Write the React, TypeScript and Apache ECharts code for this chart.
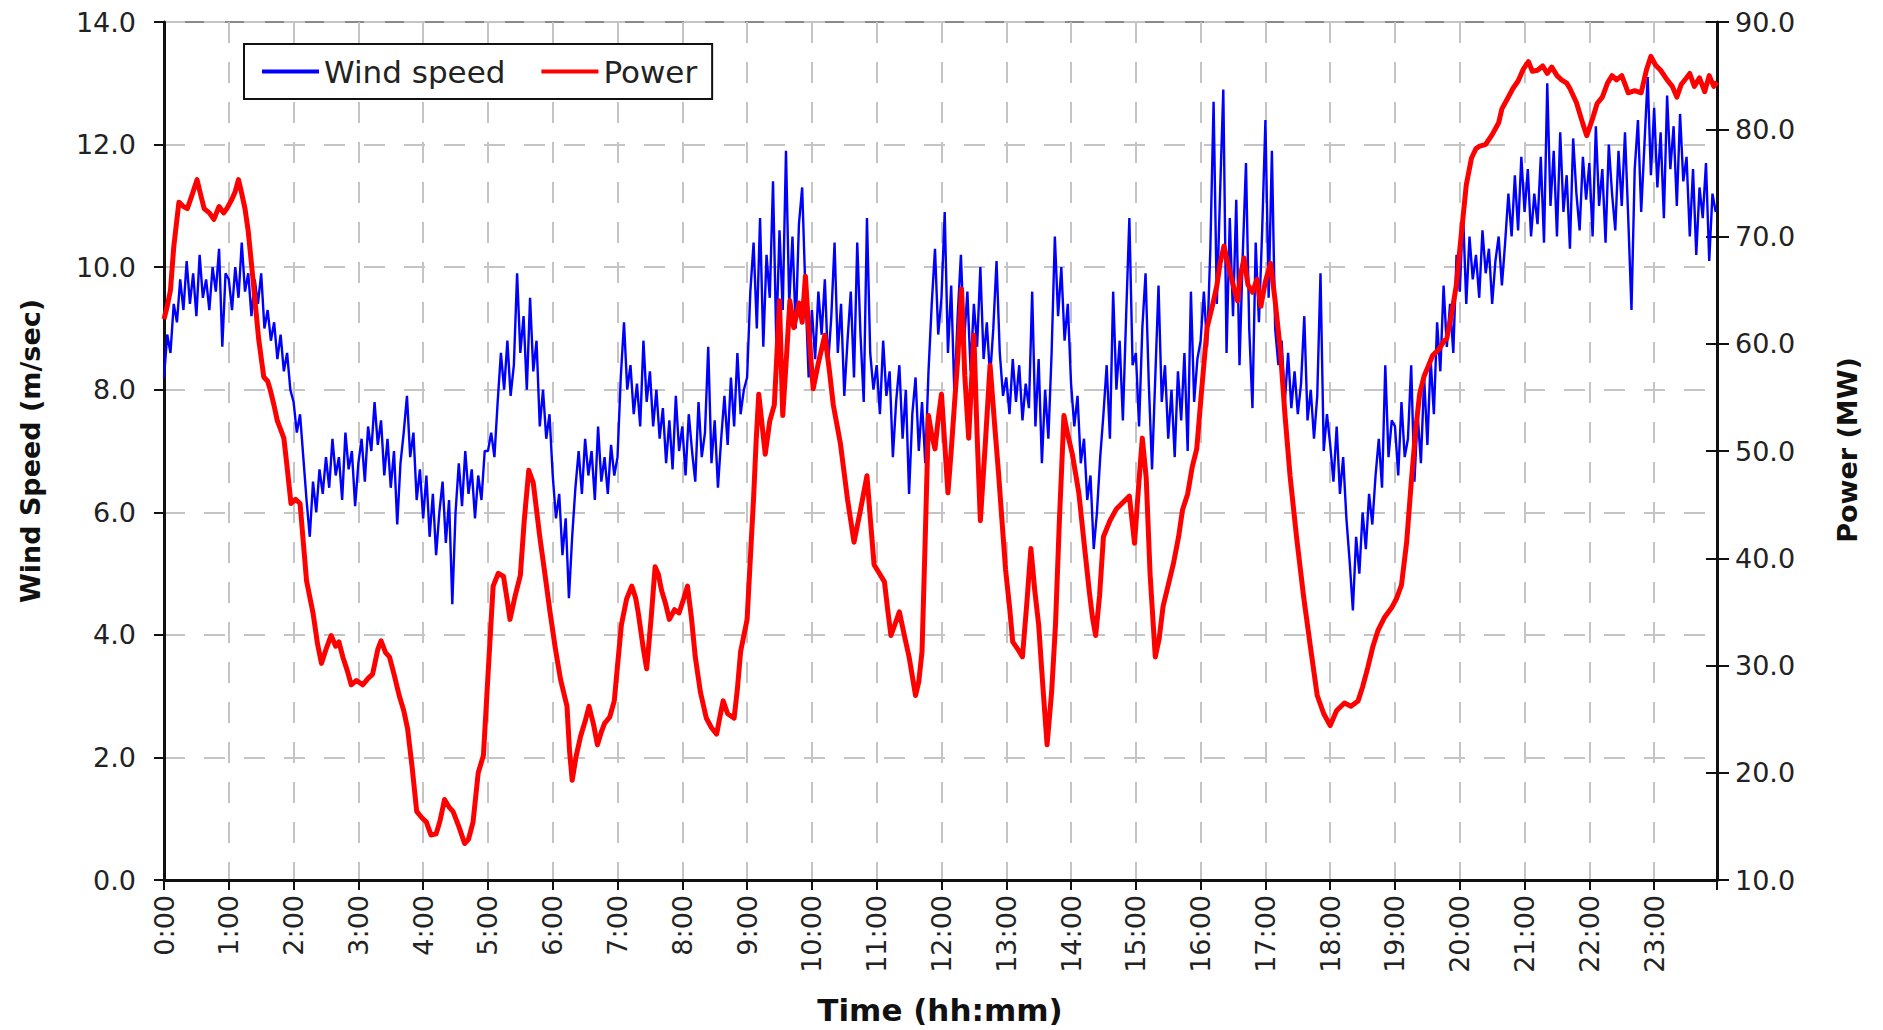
import React, { useEffect, useRef } from "react";
import * as echarts from "echarts";

// Wind speed (m/sec), one reading every 3 minutes; each row = one hour (0:00 … 23:57)
const WIND_STEP_HOURS = 0.05;
const windSpeed: number[] = [
  8.2, 8.9, 8.6, 9.4, 9.1, 9.8, 9.3, 10.1, 9.4, 9.9, 9.2, 10.2, 9.5, 9.8, 9.3, 10.0, 9.6, 10.3, 8.7, 9.9,
  9.8, 9.3, 10.0, 9.5, 10.4, 9.6, 9.9, 9.2, 9.8, 9.4, 9.9, 9.0, 9.3, 8.8, 9.1, 8.5, 8.9, 8.3, 8.6, 8.0,
  7.8, 7.3, 7.6, 6.9, 6.2, 5.6, 6.5, 6.0, 6.7, 6.3, 6.9, 6.4, 7.2, 6.6, 6.9, 6.2, 7.3, 6.7, 7.0, 6.1,
  6.8, 7.2, 6.5, 7.4, 7.0, 7.8, 7.1, 7.5, 6.6, 7.2, 6.4, 7.0, 5.8, 6.8, 7.3, 7.9, 6.9, 7.3, 6.2, 6.7,
  5.9, 6.6, 5.6, 6.3, 5.3, 6.0, 6.5, 5.5, 6.2, 4.5, 6.0, 6.8, 6.1, 7.0, 6.3, 6.7, 5.9, 6.6, 6.2, 7.0,
  7.0, 7.3, 6.9, 7.8, 8.6, 8.0, 8.8, 7.9, 8.4, 9.9, 8.6, 9.2, 8.0, 9.5, 8.3, 8.8, 7.4, 8.0, 7.2, 7.6,
  6.6, 5.9, 6.3, 5.3, 5.9, 4.6, 5.6, 6.4, 7.0, 6.3, 7.2, 6.6, 7.0, 6.2, 7.4, 6.5, 6.9, 6.3, 7.1, 6.6,
  6.9, 8.2, 9.1, 8.0, 8.4, 7.6, 8.1, 7.4, 8.8, 7.8, 8.3, 7.4, 8.0, 7.2, 7.7, 6.8, 7.5, 6.7, 7.9, 7.0,
  7.4, 6.6, 7.6, 7.0, 6.5, 7.8, 6.9, 7.3, 8.7, 6.8, 7.5, 6.4, 7.2, 7.9, 7.1, 8.2, 7.4, 8.6, 7.6, 8.0,
  8.2, 9.6, 10.4, 9.0, 10.8, 8.7, 10.2, 9.5, 11.4, 8.8, 10.6, 9.3, 11.9, 9.4, 10.5, 9.0, 10.7, 11.3, 9.6, 8.2,
  9.3, 8.5, 9.6, 8.9, 9.8, 8.4, 9.2, 10.4, 8.6, 9.4, 7.9, 8.8, 9.6, 8.2, 10.4, 8.9, 7.8, 10.8, 8.6, 8.0,
  8.4, 7.6, 8.8, 7.9, 8.3, 6.9, 7.8, 8.4, 7.2, 8.0, 6.3, 7.6, 8.2, 7.0, 7.8, 6.8, 8.3, 9.4, 10.3, 8.9,
  9.5, 10.9, 8.6, 9.7, 7.9, 9.2, 10.2, 8.8, 9.6, 8.3, 9.4, 8.7, 10.0, 8.5, 9.1, 8.2, 9.0, 10.1, 8.6, 7.9,
  8.2, 7.6, 8.5, 7.8, 8.4, 7.5, 8.1, 7.7, 9.6, 7.4, 8.5, 6.8, 8.0, 7.2, 8.6, 10.5, 9.2, 10.0, 8.8, 9.4,
  8.1, 7.4, 7.9, 6.8, 7.2, 6.2, 6.6, 5.4, 6.0, 6.9, 7.6, 8.4, 7.2, 9.6, 8.0, 8.8, 7.5, 9.2, 10.8, 8.4,
  8.6, 7.4, 9.0, 9.9, 8.1, 6.7, 8.2, 9.7, 7.8, 8.4, 7.2, 8.0, 6.9, 8.3, 7.5, 8.6, 7.0, 9.6, 7.8, 8.5,
  8.8, 9.6, 8.7, 10.3, 12.7, 9.4, 11.2, 12.9, 8.6, 10.8, 9.2, 11.1, 8.4, 10.2, 11.7, 9.0, 7.7, 10.4, 9.1, 10.6,
  12.4, 9.5, 11.9, 9.0, 8.4, 8.8, 7.8, 8.6, 7.7, 8.3, 7.6, 8.1, 9.2, 7.5, 8.0, 7.2, 7.9, 9.9, 7.0, 7.6,
  7.1, 6.5, 7.4, 6.3, 6.9, 5.9, 5.2, 4.4, 5.6, 5.0, 6.0, 5.4, 6.3, 5.8, 6.6, 7.2, 6.4, 8.4, 6.9, 7.5,
  7.4, 6.6, 7.8, 6.9, 7.2, 8.4, 6.5, 7.6, 6.8, 8.2, 7.1, 8.5, 7.6, 9.1, 8.3, 9.7, 8.7, 9.4, 8.6, 10.2,
  9.6, 10.9, 9.4, 10.5, 9.8, 10.2, 9.5, 10.6, 9.9, 10.3, 9.4, 10.1, 10.5, 9.7, 10.4, 11.2, 10.5, 11.5, 10.6, 11.8,
  10.9, 11.6, 10.5, 11.2, 10.7, 11.8, 10.4, 13.0, 11.0, 11.9, 10.5, 12.2, 10.9, 11.5, 10.3, 12.1, 11.2, 10.6, 11.8, 11.1,
  11.7, 10.5, 12.3, 11.0, 11.6, 10.4, 12.0, 11.2, 10.6, 11.9, 11.0, 12.2, 10.8, 9.3, 11.6, 12.4, 10.9, 12.0, 13.1, 11.5,
  12.6, 11.3, 12.2, 10.8, 12.8, 11.6, 12.3, 11.0, 12.5, 11.4, 11.8, 10.5, 11.6, 10.2, 11.3, 10.8, 11.7, 10.1, 11.2, 10.9,
];

// Power (MW) as [time in hours, MW]
const powerPoints: [number, number][] = [
  [0.0, 62.3], [0.05, 63.5], [0.1, 65], [0.15, 69], [0.23, 73.2], [0.3, 72.8], [0.36, 72.6], [0.44, 74],
  [0.51, 75.3], [0.57, 73.8], [0.62, 72.6], [0.7, 72.2], [0.77, 71.6], [0.85, 72.8], [0.92, 72.2], [0.97, 72.6],
  [1.05, 73.5], [1.1, 74.2], [1.15, 75.3], [1.2, 74.0], [1.25, 72.6], [1.3, 70.5], [1.38, 65.6], [1.46, 60.5],
  [1.54, 56.9], [1.6, 56.5], [1.64, 55.7], [1.7, 54.2], [1.75, 52.8], [1.85, 51.2], [1.9, 48.5], [1.96, 45.1],
  [2.03, 45.5], [2.1, 45.1], [2.15, 41.5], [2.2, 37.9], [2.3, 34.9], [2.37, 32], [2.43, 30.2], [2.5, 31.5],
  [2.58, 32.8], [2.65, 31.8], [2.7, 32.2], [2.76, 30.8], [2.83, 29.5], [2.89, 28.2], [2.97, 28.6], [3.07, 28.2],
  [3.15, 28.8], [3.22, 29.2], [3.3, 31.5], [3.35, 32.3], [3.42, 31.2], [3.48, 30.8], [3.55, 29.2], [3.63, 27.2],
  [3.7, 25.8], [3.76, 24.1], [3.83, 20.5], [3.9, 16.4], [3.98, 15.8], [4.05, 15.4], [4.12, 14.2], [4.2, 14.3],
  [4.26, 15.5], [4.33, 17.5], [4.4, 16.8], [4.46, 16.4], [4.55, 15.0], [4.64, 13.4], [4.7, 13.8], [4.77, 15.4],
  [4.85, 20], [4.93, 21.6], [5.0, 29], [5.08, 37.4], [5.16, 38.6], [5.24, 38.3], [5.3, 36], [5.34, 34.3],
  [5.42, 36.5], [5.5, 38.4], [5.56, 43.5], [5.63, 48.2], [5.7, 47], [5.75, 44.5], [5.8, 42], [5.88, 38.5],
  [5.96, 34.9], [6.04, 31.6], [6.12, 28.7], [6.22, 26.2], [6.26, 22], [6.3, 19.3], [6.36, 21.5], [6.43, 23.4],
  [6.5, 24.8], [6.56, 26.2], [6.63, 24.5], [6.69, 22.6], [6.75, 23.8], [6.8, 24.6], [6.88, 25.2], [6.95, 26.7],
  [7.0, 30], [7.06, 33.8], [7.14, 36.2], [7.22, 37.4], [7.28, 36.3], [7.32, 34.9], [7.4, 31.5], [7.45, 29.7],
  [7.52, 34.5], [7.58, 39.2], [7.63, 38.5], [7.68, 37], [7.74, 35.8], [7.8, 34.3], [7.88, 35.2], [7.95, 34.9],
  [8.02, 36.2], [8.08, 37.4], [8.14, 34.5], [8.2, 30.8], [8.28, 27.5], [8.37, 25.1], [8.45, 24.2], [8.53, 23.6],
  [8.58, 25.2], [8.63, 26.7], [8.7, 25.5], [8.8, 25.1], [8.85, 27.8], [8.9, 31.3], [9.0, 34.3], [9.05, 40],
  [9.1, 45.6], [9.14, 51], [9.18, 55.3], [9.23, 52.5], [9.28, 49.7], [9.35, 52.8], [9.42, 54.3], [9.46, 59],
  [9.5, 64], [9.55, 53.3], [9.6, 58], [9.66, 64], [9.72, 61.5], [9.8, 63.8], [9.85, 62], [9.9, 66.3],
  [9.96, 60.5], [10.02, 55.8], [10.1, 58.2], [10.2, 60.8], [10.27, 57.5], [10.33, 54.3], [10.44, 50.7], [10.55, 45.5],
  [10.65, 41.5], [10.75, 44.5], [10.85, 47.7], [10.9, 43.8], [10.96, 39.4], [11.04, 38.6], [11.12, 37.8], [11.17, 35.2],
  [11.22, 32.8], [11.28, 33.8], [11.35, 35], [11.42, 33], [11.5, 30.8], [11.6, 27.2], [11.65, 28.5], [11.7, 31.3],
  [11.75, 42], [11.8, 53.3], [11.85, 51.5], [11.9, 50.2], [11.95, 53], [12.0, 55.3], [12.1, 46.1], [12.15, 50],
  [12.2, 54.3], [12.25, 58.5], [12.31, 65.1], [12.36, 57], [12.42, 51.2], [12.46, 56], [12.5, 60.8], [12.55, 51.5],
  [12.6, 43.5], [12.68, 51], [12.75, 58], [12.82, 52.5], [12.88, 48], [12.94, 43], [12.99, 38.9], [13.05, 35.5],
  [13.1, 32.2], [13.18, 31.5], [13.25, 30.8], [13.32, 36], [13.38, 40.9], [13.44, 37], [13.5, 33.8], [13.56, 28.5],
  [13.63, 22.6], [13.7, 27.5], [13.76, 33.8], [13.82, 43.5], [13.89, 53.3], [13.95, 51.5], [14.02, 49.7], [14.12, 46.1],
  [14.2, 41.5], [14.28, 37], [14.33, 34.5], [14.38, 32.8], [14.44, 36.5], [14.5, 42], [14.6, 43.5], [14.7, 44.6],
  [14.8, 45.2], [14.9, 45.8], [14.98, 41.4], [15.04, 46.5], [15.1, 51.2], [15.16, 47.5], [15.22, 38.5], [15.3, 30.8],
  [15.36, 32.5], [15.42, 35.5], [15.5, 37.5], [15.58, 39.5], [15.66, 42], [15.72, 44.5], [15.8, 46], [15.87, 48.5],
  [15.94, 50.2], [16.02, 56], [16.1, 61.5], [16.18, 63.5], [16.25, 65.4], [16.3, 67.5], [16.36, 69.1], [16.42, 67.5],
  [16.5, 65.5], [16.57, 64], [16.62, 66.5], [16.67, 68], [16.73, 65.5], [16.8, 64.8], [16.87, 66], [16.93, 63.5],
  [17.0, 65.8], [17.08, 67.5], [17.15, 64], [17.23, 59.4], [17.3, 53.5], [17.38, 47.7], [17.48, 42], [17.59, 36.4],
  [17.7, 31.5], [17.8, 27.2], [17.9, 25.5], [18.0, 24.4], [18.1, 25.8], [18.22, 26.5], [18.32, 26.2], [18.43, 26.7],
  [18.5, 28], [18.58, 29.8], [18.66, 31.8], [18.74, 33.3], [18.84, 34.5], [18.95, 35.4], [19.02, 36.2], [19.1, 37.5],
  [19.18, 41.5], [19.25, 47], [19.32, 52], [19.38, 55.3], [19.45, 57], [19.52, 58], [19.58, 58.9], [19.68, 59.5],
  [19.75, 60.2], [19.8, 60.5], [19.88, 63], [19.95, 65.6], [20.02, 70], [20.1, 74.8], [20.18, 77.3], [20.25, 78.2],
  [20.3, 78.4], [20.4, 78.6], [20.5, 79.5], [20.6, 80.6], [20.65, 81.9], [20.75, 83], [20.82, 83.8], [20.9, 84.5],
  [20.98, 85.6], [21.06, 86.3], [21.12, 85.4], [21.2, 85.5], [21.28, 85.9], [21.35, 85.2], [21.42, 85.8], [21.5, 85.0],
  [21.57, 84.6], [21.65, 84.3], [21.7, 83.8], [21.8, 82.5], [21.9, 80.5], [21.96, 79.4], [22.05, 81.0], [22.12, 82.4],
  [22.2, 83], [22.28, 84.3], [22.35, 85], [22.42, 84.6], [22.5, 85], [22.55, 84.2], [22.6, 83.4], [22.7, 83.6],
  [22.8, 83.4], [22.88, 85.5], [22.95, 86.8], [23.02, 86.0], [23.1, 85.5], [23.2, 84.6], [23.28, 84.0], [23.35, 83.0],
  [23.42, 84.2], [23.5, 84.8], [23.55, 85.2], [23.62, 84.0], [23.7, 84.8], [23.78, 83.5], [23.85, 85.0], [23.92, 84.0],
  [23.97, 84.4],
];

const SERIES_NAMES = ["Wind speed", "Power"];
const AXIS_TITLES = { left: "Wind Speed (m/sec)", right: "Power (MW)", bottom: "Time (hh:mm)" };

const FONT = '"DejaVu Sans", Verdana, sans-serif';
const GRID_LINE = { color: "#c4c4c4", width: 2, type: [21, 19] as number[] };

export default function App() {
  const ref = useRef<HTMLDivElement>(null);

  useEffect(() => {
    if (!ref.current) return;
    const chart = echarts.init(ref.current, undefined, { renderer: "svg" });
    const windData = windSpeed.map((v, i) => [+(i * WIND_STEP_HOURS).toFixed(2), v]);

    chart.setOption({
      animation: false,
      backgroundColor: "#ffffff",
      grid: {
        left: 164,
        right: 166,
        top: 22,
        bottom: 150,
        show: true,
        borderColor: "#8a8a8a",
        borderWidth: 2,
        backgroundColor: "transparent",
      },
      legend: {
        data: SERIES_NAMES,
        left: 244,
        top: 44,
        orient: "horizontal",
        padding: [12, 15, 12, 18],
        itemGap: 36,
        itemWidth: 57,
        itemHeight: 4,
        icon: "rect",
        borderColor: "#111",
        borderWidth: 2,
        backgroundColor: "#fff",
        textStyle: { fontFamily: FONT, fontSize: 31, color: "#222" },
      },
      xAxis: {
        type: "value",
        min: 0,
        max: 23.97,
        interval: 1,
        axisLine: { show: true, lineStyle: { color: "#111", width: 3 } },
        axisTick: { show: true, length: 10, lineStyle: { color: "#111", width: 2 } },
        axisLabel: {
          rotate: 90,
          margin: 15,
          fontFamily: FONT,
          fontSize: 27,
          color: "#222",
          formatter: (v: number) => (Number.isInteger(v) ? `${v}:00` : ""),
        },
        splitLine: { show: true, lineStyle: GRID_LINE },
      },
      yAxis: [
        {
          type: "value",
          position: "left",
          min: 0,
          max: 14,
          interval: 2,
          axisLine: { show: true, lineStyle: { color: "#111", width: 3 } },
          axisTick: { show: true, length: 10, lineStyle: { color: "#111", width: 2 } },
          axisLabel: {
            margin: 28,
            fontFamily: FONT,
            fontSize: 27,
            color: "#222",
            formatter: (v: number) => v.toFixed(1),
          },
          splitLine: { show: true, lineStyle: GRID_LINE },
        },
        {
          type: "value",
          position: "right",
          min: 10,
          max: 90,
          interval: 10,
          axisLine: { show: true, lineStyle: { color: "#111", width: 3 } },
          axisTick: { show: true, length: 12, lineStyle: { color: "#111", width: 2 } },
          axisLabel: {
            margin: 18,
            fontFamily: FONT,
            fontSize: 27,
            color: "#222",
            formatter: (v: number) => v.toFixed(1),
          },
          splitLine: { show: false },
        },
        {
          type: "value",
          position: "right",
          min: 10,
          max: 90,
          interval: 10,
          axisLine: { show: false },
          axisTick: { show: true, inside: true, length: 11, lineStyle: { color: "#111", width: 2 } },
          axisLabel: { show: false },
          splitLine: { show: false },
        },
      ],
      series: [
        {
          name: SERIES_NAMES[0],
          type: "line",
          yAxisIndex: 0,
          data: windData,
          showSymbol: false,
          symbol: "none",
          color: "#0000ff",
          lineStyle: { color: "#0000ff", width: 2.4 },
          z: 2,
        },
        {
          name: SERIES_NAMES[1],
          type: "line",
          yAxisIndex: 1,
          data: powerPoints,
          showSymbol: false,
          symbol: "none",
          color: "#ff0000",
          lineStyle: { color: "#ff0000", width: 5, join: "round" },
          z: 3,
        },
      ],
      graphic: [
        {
          type: "text",
          x: 30,
          y: 451,
          rotation: Math.PI / 2,
          style: {
            text: AXIS_TITLES.left,
            fontFamily: FONT,
            fontWeight: "bold",
            fontSize: 27,
            fill: "#111",
            align: "center",
            verticalAlign: "middle",
          },
        },
        {
          type: "text",
          x: 1847,
          y: 450,
          rotation: Math.PI / 2,
          style: {
            text: AXIS_TITLES.right,
            fontFamily: FONT,
            fontWeight: "bold",
            fontSize: 27,
            fill: "#111",
            align: "center",
            verticalAlign: "middle",
          },
        },
        {
          type: "text",
          x: 940,
          y: 1010,
          style: {
            text: AXIS_TITLES.bottom,
            fontFamily: FONT,
            fontWeight: "bold",
            fontSize: 31,
            fill: "#111",
            align: "center",
            verticalAlign: "middle",
          },
        },
      ],
    });

    return () => chart.dispose();
  }, []);

  return (
    <div
      ref={ref}
      style={{ position: "absolute", left: 0, top: 0, width: 1883, height: 1030, background: "#fff" }}
    />
  );
}
